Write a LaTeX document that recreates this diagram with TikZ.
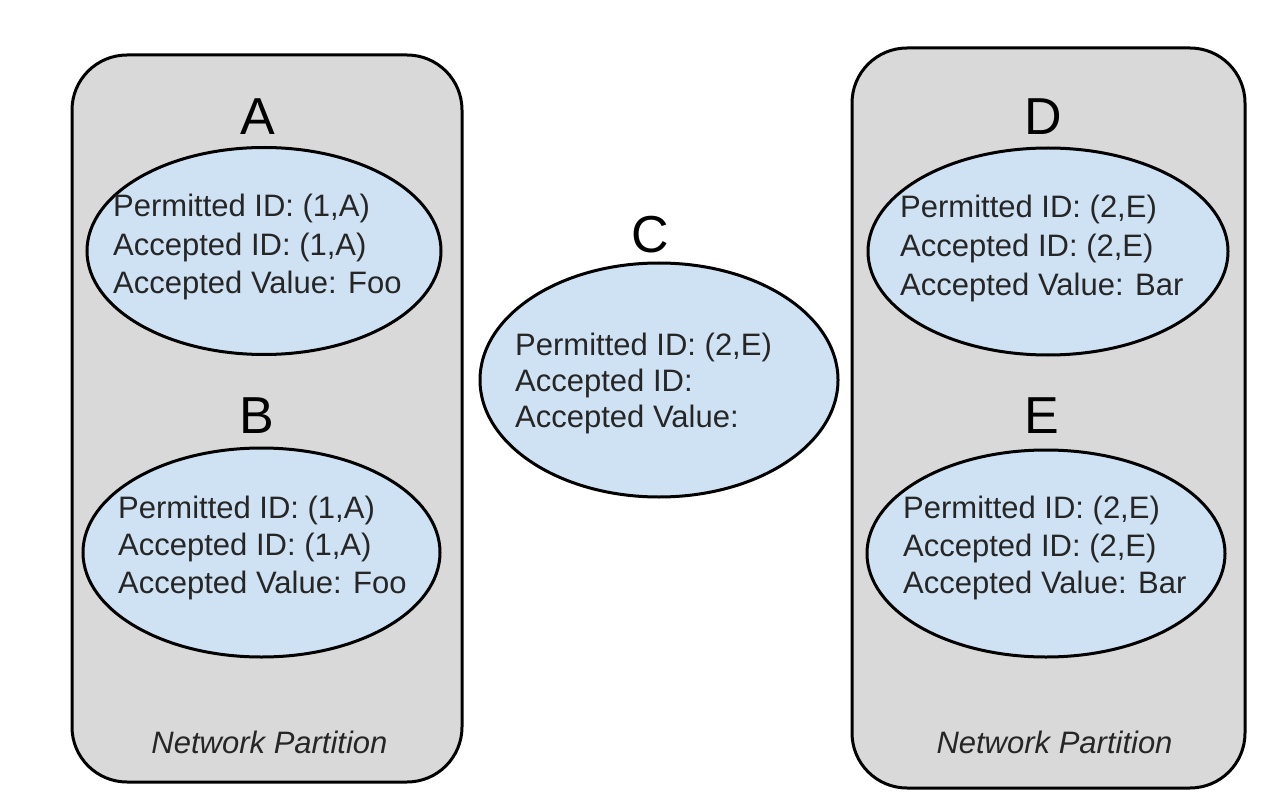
\documentclass[tikz,border=0pt]{standalone}
\usepackage{fontspec}
\setmainfont{Liberation Sans}
\usetikzlibrary{shapes.geometric}
\definecolor{partgray}{HTML}{D9D9D9}
\definecolor{nodeblue}{HTML}{CFE2F3}
\definecolor{txtgray}{HTML}{262626}
\tikzset{
  partbox/.style={draw=black, line width=3pt, fill=partgray, rounded corners=55pt, inner sep=0pt},
  acceptor/.style={draw=black, line width=3pt, fill=nodeblue, ellipse, inner sep=0pt},
  namelabel/.style={anchor=base, inner sep=0pt, font=\fontsize{52}{60}\selectfont, text=black},
  infoline/.style={anchor=base west, inner sep=0pt, font=\fontsize{31}{38}\selectfont, text=txtgray},
  partlabel/.style={anchor=base, inner sep=0pt, font=\fontsize{31}{38}\selectfont\itshape, text=txtgray}
}
\begin{document}
\begin{tikzpicture}[x=1pt, y=-1pt]
\useasboundingbox[fill=white] (0,0) rectangle (1268,810);

% partitions
\node[partbox, minimum width=390pt, minimum height=727pt] (P1) at (267,418.5) {};
\node[partbox, minimum width=393pt, minimum height=740pt] (P2) at (1048.5,418) {};

% ellipses
\node[acceptor, minimum width=354pt, minimum height=207pt] (A) at (264,251) {};
\node[acceptor, minimum width=357pt, minimum height=209pt] (B) at (261.5,552.5) {};
\node[acceptor, minimum width=358pt, minimum height=234pt] (C) at (659,380) {};
\node[acceptor, minimum width=360pt, minimum height=207pt] (D) at (1048,251.5) {};
\node[acceptor, minimum width=358pt, minimum height=207pt] (E) at (1046,553.5) {};

% labels
\node[namelabel] (Alab) at (258,135) {A};
\node[namelabel] (Blab) at (257,433) {B};
\node[namelabel] (Clab) at (650,253) {C};
\node[namelabel] (Dlab) at (1043,135) {D};
\node[namelabel] (Elab) at (1042,433) {E};

% A text
\node[infoline] (A1) at (113,217) {Permitted ID: (1,A)};
\node[infoline] (A2) at (113,255) {Accepted ID: (1,A)};
\node[infoline] (A3) at (113,293) {Accepted Value: Foo};
% B text
\node[infoline] (B1) at (118,518) {Permitted ID: (1,A)};
\node[infoline] (B2) at (118,555) {Accepted ID: (1,A)};
\node[infoline] (B3) at (118,593) {Accepted Value: Foo};
% C text
\node[infoline] (C1) at (515,355) {Permitted ID: (2,E)};
\node[infoline] (C2) at (515,391) {Accepted ID:};
\node[infoline] (C3) at (515,427) {Accepted Value:};
% D text
\node[infoline] (D1) at (900,218) {Permitted ID: (2,E)};
\node[infoline] (D2) at (900,257) {Accepted ID: (2,E)};
\node[infoline] (D3) at (900,295) {Accepted Value: Bar};
% E text
\node[infoline] (E1) at (903,518) {Permitted ID: (2,E)};
\node[infoline] (E2) at (903,556) {Accepted ID: (2,E)};
\node[infoline] (E3) at (903,593) {Accepted Value: Bar};

% partition labels
\node[partlabel] (NP1) at (269.5,753) {Network Partition};
\node[partlabel] (NP2) at (1054.5,753) {Network Partition};
\end{tikzpicture}
\end{document}
